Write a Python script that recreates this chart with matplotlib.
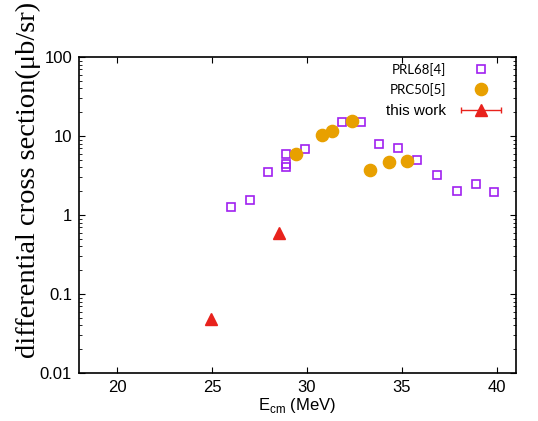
import numpy as np
import matplotlib
matplotlib.use('Agg')
import matplotlib.pyplot as plt
from matplotlib.container import ErrorbarContainer
from matplotlib.legend_handler import HandlerErrorbar

# PRL68[4]
prl_e = [26.0, 27.0, 27.95, 28.9, 28.9, 28.9, 29.9, 31.85, 32.85, 33.8, 34.8, 35.8, 36.85, 37.9, 38.9, 39.85]
prl_ds = [1.26, 1.53, 3.5, 4.4, 4.0, 5.9, 6.9, 15.0, 15.0, 8.0, 7.0, 5.0, 3.2, 2.0, 2.45, 1.97]

# PRC50[5]
prc_e = [29.4, 30.8, 31.3, 32.35, 33.3, 34.3, 35.25]
prc_ds = [5.9, 10.2, 11.6, 15.6, 3.7, 4.75, 4.85]

# this work
tw_e = [24.95, 28.55]
tw_ds = [0.048, 0.60]

red = '#e8221c'

plt.rcParams['font.family'] = ['Liberation Sans', 'DejaVu Sans']

fig = plt.figure(figsize=(5.38, 4.21), dpi=100)
ax = fig.add_axes([0.1468, 0.114, 0.8123, 0.7506])

ax.plot(prl_e, prl_ds, 's', ms=6.2, mfc='none', mec='#a020f0', mew=1.2,
        linestyle='none', label='PRL68[4]')
ax.plot(prc_e, prc_ds, 'o', ms=8.8, color='#e8a000', mec='#e8a000',
        linestyle='none', label='PRC50[5]')
ax.plot(tw_e, tw_ds, '^', ms=9, color=red, linestyle='none')
# legend entry only (errorbar style key)
eb = ax.errorbar([np.nan], [np.nan], xerr=[1], fmt='^', ms=9, color=red,
                 ecolor=red, elinewidth=1, capsize=2, label='this work')

ax.set_yscale('log')
ax.set_xlim(18, 41)
ax.set_ylim(0.01, 100)
ax.set_xticks([20, 25, 30, 35, 40])
ax.set_yticks([0.01, 0.1, 1, 10, 100])
ax.set_yticklabels(['0.01', '0.1', '1', '10', '100'])
ax.tick_params(which='both', direction='in', top=True, right=True, labelsize=12)
ax.tick_params(which='major', length=4, pad=5)
ax.tick_params(which='minor', length=2)
ax.xaxis.set_minor_locator(matplotlib.ticker.NullLocator())
for s in ax.spines.values():
    s.set_linewidth(1.2)

ax.set_xlabel('E$_{\\mathregular{cm}}$ (MeV)', fontsize=12, labelpad=1)
ax.set_ylabel('differential cross section(\u03bcb/sr)', fontsize=20.5,
              family='Liberation Serif')
ax.yaxis.set_label_coords(-0.087, 0.61)

leg = ax.legend(loc='upper right', bbox_to_anchor=(0.99, 1.015), frameon=False,
                markerfirst=False, handlelength=2.6, handletextpad=1.0,
                labelspacing=0.5, borderaxespad=0.3, fontsize=11,
                handler_map={ErrorbarContainer: HandlerErrorbar(xerr_size=1.3)})
texts = leg.get_texts()
for t in texts[:2]:
    t.set_family('Lato')
    t.set_fontsize(9.5)

fig.savefig('out.png', dpi=100)
